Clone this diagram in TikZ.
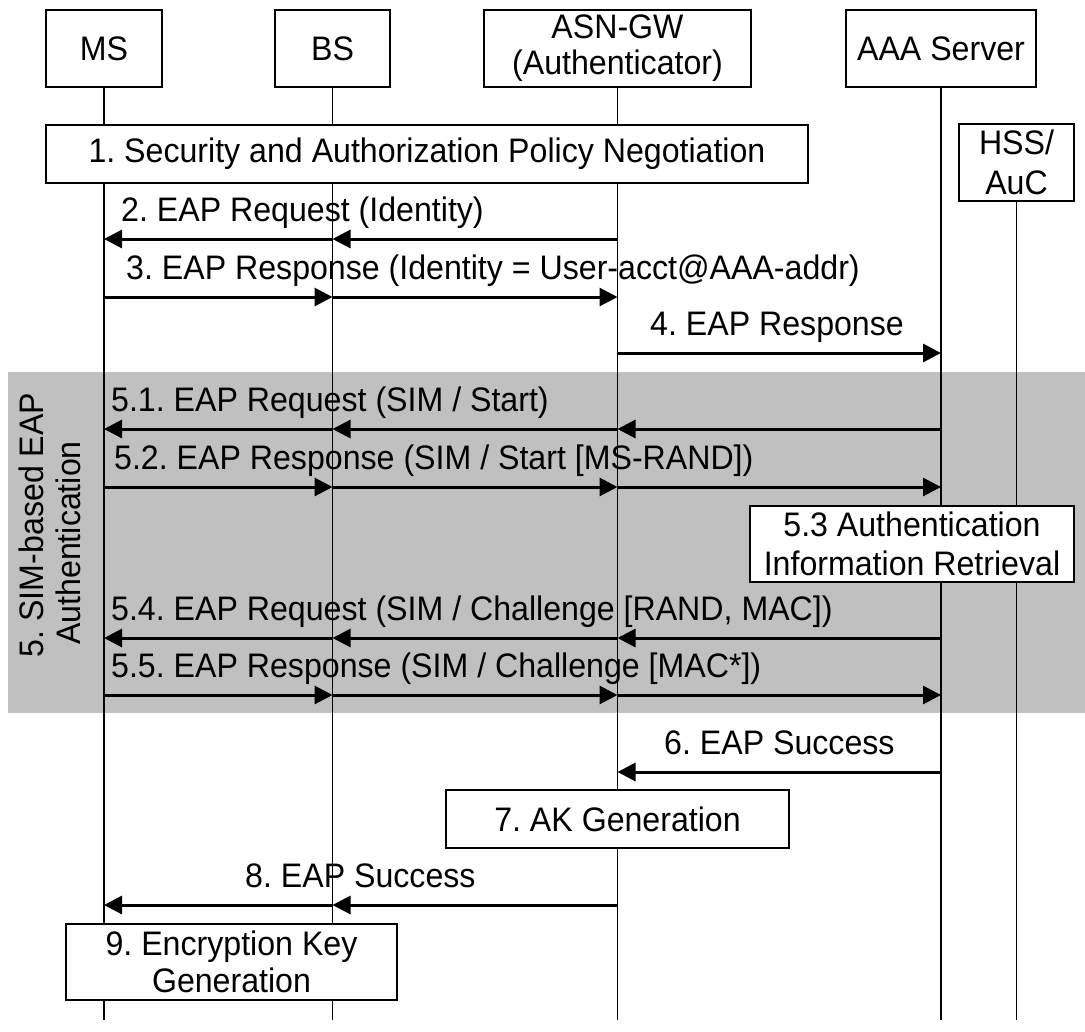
\documentclass[tikz,border=0pt]{standalone}
\usepackage{fontspec}
\setmainfont{Liberation Sans}[FakeStretch=0.945]
\usetikzlibrary{arrows.meta}
\definecolor{band}{RGB}{192,192,192}
\frenchspacing
\begin{document}
\begin{tikzpicture}[x=1bp,y=-1bp,
  every node/.style={font=\fontsize{34bp}{37bp}\selectfont\frenchspacing, inner sep=0pt},
  box/.style={draw, line width=2bp, fill=white, align=center},
  life/.style={line width=1.5bp},
  msg/.style={line width=3bp, -{Triangle[length=18bp,width=18bp]}},
  lbl/.style={anchor=base west},
  vlbl/.style={rotate=90, anchor=base}
]
\useasboundingbox (0,0) rectangle (1085,1032);
% shaded band for step 5
\fill[band] (8,372) rectangle (1085,713);

% entities
\node[box, minimum width=115bp, minimum height=77bp] (ms) at (104,48.5) {MS};
\node[box, minimum width=115bp, minimum height=77bp] (bs) at (332.5,48.5) {BS};
\node[box, minimum width=267bp, minimum height=77bp, font=\fontsize{34bp}{36bp}\selectfont] (asn) at (617.5,48.5) {ASN-GW\\(Authenticator)};
\node[box, minimum width=190bp, minimum height=77bp] (aaa) at (941,48.5) {AAA Server};
\node[box, minimum width=115bp, minimum height=77bp, font=\fontsize{34bp}{40bp}\selectfont] (hss) at (1016.5,162.5) {HSS/\\AuC};

% lifelines
\coordinate (bot) at (0,1020);
\draw[life] (ms.south) -- (ms.south |- bot);
\draw[life] (bs.south) -- (bs.south |- bot);
\draw[life] (asn.south) -- (asn.south |- bot);
\draw[life] (aaa.south) -- (aaa.south |- bot);
\draw[life] (hss.south) -- (hss.south |- bot);

% process boxes
\node[box, minimum width=762bp, minimum height=58bp] (n1) at (427,154) {1. Security and Authorization Policy Negotiation};
\node[box, minimum width=324bp, minimum height=76bp, font=\fontsize{34bp}{39bp}\selectfont] (n53) at (912,543.5) {5.3 Authentication\\Information Retrieval};
\node[box, minimum width=343bp, minimum height=58bp] (n7) at (617.5,819) {7. AK Generation};
\node[box, minimum width=331bp, minimum height=76bp] (n9) at (231.5,961.5) {9. Encryption Key\\Generation};

% band label
\node[vlbl] (sim1) at (43,525) {5. SIM-based EAP};
\node[vlbl] (sim2) at (80,543) {Authentication};

% message rows
\coordinate (r2) at (0,239);
\coordinate (r3) at (0,297);
\coordinate (r4) at (0,353);
\coordinate (r51) at (0,429);
\coordinate (r52) at (0,487);
\coordinate (r54) at (0,638);
\coordinate (r55) at (0,695);
\coordinate (r6) at (0,772);
\coordinate (r8) at (0,905);

% 2
\draw[msg] (asn |- r2) -- (bs |- r2);
\draw[msg] (bs |- r2) -- (ms |- r2);
\node[lbl] (l2) at (121,221) {2. EAP Request (Identity)};
% 3
\draw[msg] (ms |- r3) -- (bs |- r3);
\draw[msg] (bs |- r3) -- (asn |- r3);
\node[lbl] (l3) at (126,279) {3. EAP Response (Identity = User-acct@AAA-addr)};
% 4
\draw[msg] (asn |- r4) -- (aaa |- r4);
\node[lbl] (l4) at (650,335) {4. EAP Response};
% 5.1
\draw[msg] (aaa |- r51) -- (asn |- r51);
\draw[msg] (asn |- r51) -- (bs |- r51);
\draw[msg] (bs |- r51) -- (ms |- r51);
\node[lbl] (l51) at (111,411) {5.1. EAP Request (SIM / Start)};
% 5.2
\draw[msg] (ms |- r52) -- (bs |- r52);
\draw[msg] (bs |- r52) -- (asn |- r52);
\draw[msg] (asn |- r52) -- (aaa |- r52);
\node[lbl] (l52) at (114,469) {5.2. EAP Response (SIM / Start [MS-RAND])};
% 5.4
\draw[msg] (aaa |- r54) -- (asn |- r54);
\draw[msg] (asn |- r54) -- (bs |- r54);
\draw[msg] (bs |- r54) -- (ms |- r54);
\node[lbl] (l54) at (111,620) {5.4. EAP Request (SIM / Challenge [RAND, MAC])};
% 5.5
\draw[msg] (ms |- r55) -- (bs |- r55);
\draw[msg] (bs |- r55) -- (asn |- r55);
\draw[msg] (asn |- r55) -- (aaa |- r55);
\node[lbl] (l55) at (111,677) {5.5. EAP Response (SIM / Challenge [MAC*])};
% 6
\draw[msg] (aaa |- r6) -- (asn |- r6);
\node[lbl] (l6) at (664,754) {6. EAP Success};
% 8
\draw[msg] (asn |- r8) -- (bs |- r8);
\draw[msg] (bs |- r8) -- (ms |- r8);
\node[lbl] (l8) at (245,887) {8. EAP Success};
\end{tikzpicture}
\end{document}
